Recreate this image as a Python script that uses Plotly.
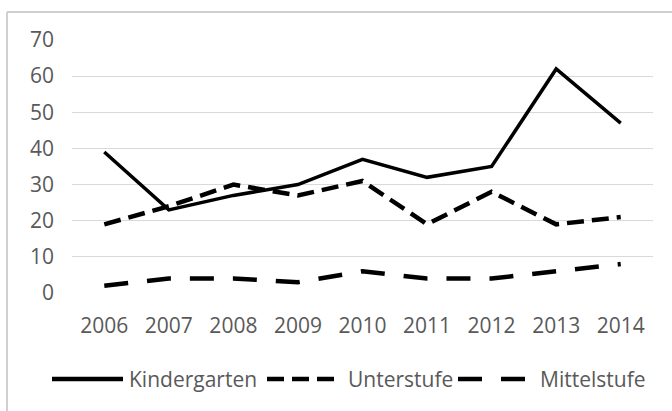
import plotly.graph_objects as go

# Data
years = ["2006", "2007", "2008", "2009", "2010", "2011", "2012", "2013", "2014"]
kindergarten = [39, 23, 27, 30, 37, 32, 35, 62, 47]
unterstufe = [19, 24, 30, 27, 31, 19, 28, 19, 21]
mittelstufe = [2, 4, 4, 3, 6, 4, 4, 6, 8]
series_names = ["Kindergarten", "Unterstufe", "Mittelstufe"]
y_ticks = [0, 10, 20, 30, 40, 50, 60, 70]

W, H = 672, 411
ML, MR, MT, MB = 72, 19, 40, 118
PW = W - ML - MR
PH = H - MT - MB

FONT = "Open Sans"
FS = 21
TXT = "#595959"
GRID = "#d9d9d9"

dash_styles = ["solid", "17px,8px", "24px,19px"]
series = [kindergarten, unterstufe, mittelstufe]


def px_x(px):
    return (px - ML) / PW


def px_y(py):
    return (H - MB - py) / PH


fig = go.Figure()
for name, vals, dash in zip(series_names, series, dash_styles):
    fig.add_trace(go.Scatter(
        x=years, y=vals, name=name, mode="lines",
        line=dict(color="black", width=4.5 if dash != "solid" else 3.5, dash=dash),
        showlegend=False,
    ))

shapes = []
annotations = []

# chart frame (top and left edges)
shapes.append(dict(type="line", xref="paper", yref="paper",
                   x0=px_x(7), x1=px_x(W + 5), y0=px_y(12), y1=px_y(12),
                   line=dict(color="#d0d0d0", width=2)))
shapes.append(dict(type="line", xref="paper", yref="paper",
                   x0=px_x(7), x1=px_x(7), y0=px_y(12), y1=px_y(H + 5),
                   line=dict(color="#d0d0d0", width=2)))

# legend
legend_items = [
    (52, 123, 127),
    (267, 335, 346),
    (458, 528, 538),
]
ly = px_y(379)
for (x0, x1, tx), name, dash in zip(legend_items, series_names, dash_styles):
    shapes.append(dict(type="line", xref="paper", yref="paper",
                       x0=px_x(x0), x1=px_x(x1), y0=ly, y1=ly,
                       line=dict(color="black", width=4.5, dash=dash)))
    annotations.append(dict(xref="paper", yref="paper", x=px_x(tx), y=ly,
                            text=name, showarrow=False, xanchor="left",
                            yanchor="middle",
                            font=dict(family=FONT, size=FS, color=TXT)))

fig.update_layout(
    width=W, height=H,
    margin=dict(l=ML, r=MR, t=MT, b=MB, pad=0),
    paper_bgcolor="white", plot_bgcolor="white",
    font=dict(family=FONT, size=FS, color=TXT),
    shapes=shapes,
    annotations=annotations,
    showlegend=False,
    xaxis=dict(type="category", range=[-0.5, 8.5], showgrid=False,
               showline=False, zeroline=False, ticks="",
               ticklabelstandoff=18,
               tickfont=dict(family=FONT, size=FS, color=TXT)),
    yaxis=dict(range=[0, 70], tickvals=y_ticks, showgrid=True,
               gridcolor=GRID, gridwidth=1, zeroline=False, showline=False,
               ticks="", ticklabelstandoff=17,
               tickfont=dict(family=FONT, size=FS, color=TXT)),
)

fig.write_html("out.html")
